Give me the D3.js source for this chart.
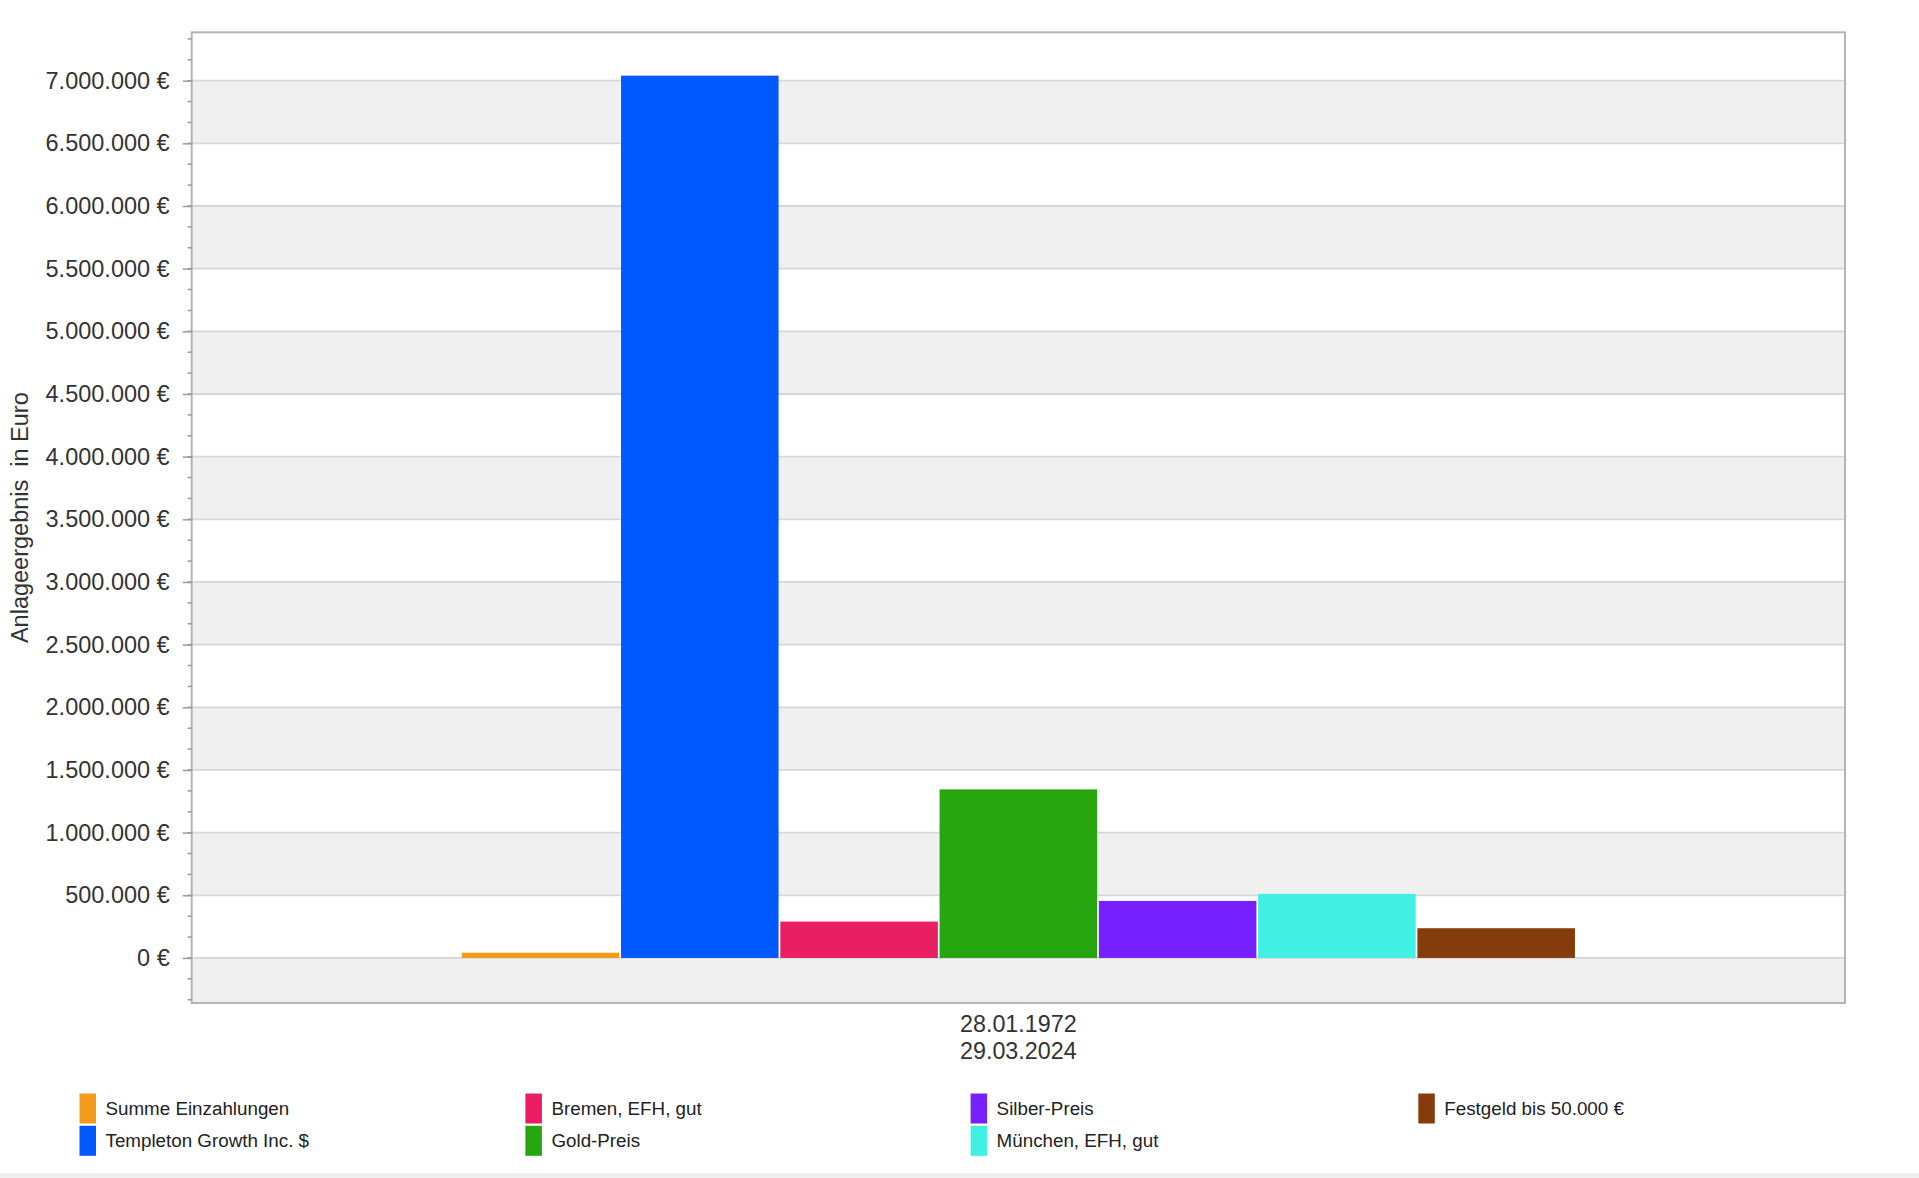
<!DOCTYPE html>
<html lang="de">
<head>
<meta charset="utf-8">
<title>Anlageergebnis in Euro</title>
<script src="https://cdn.jsdelivr.net/npm/d3@7/dist/d3.min.js"></script>
<style>
  html, body { margin: 0; padding: 0; background: #fff; }
  svg { display: block; font-family: "Liberation Sans", Arial, Helvetica, sans-serif; }
</style>
</head>
<body>
<svg id="chart" width="1919" height="1178"></svg>
<script>
// Zeitraum (eine Kategorie, zweizeilig beschriftet)
const periodLines = ["28.01.1972", "29.03.2024"];

// Anlagen und Endwerte in Euro
const seriesNames = [
  "Summe Einzahlungen",
  "Templeton Growth Inc. $",
  "Bremen, EFH, gut",
  "Gold-Preis",
  "Silber-Preis",
  "München, EFH, gut",
  "Festgeld bis 50.000 €"
];
const seriesValues = [42000, 7040000, 290000, 1345000, 455000, 511000, 237000];
const seriesColors = ["#f59b1a", "#0059ff", "#e91e63", "#27a50f", "#7620ff", "#40f0e2", "#843c0a"];

// Achsenbeschriftung
const yTickValues = [0, 500000, 1000000, 1500000, 2000000, 2500000, 3000000, 3500000,
                     4000000, 4500000, 5000000, 5500000, 6000000, 6500000, 7000000];
const yTitle = "Anlageergebnis  in Euro";

const de = d3.formatLocale({ decimal: ",", thousands: ".", grouping: [3], currency: ["", " €"] });
const fmt = v => de.format(",.0f")(v) + " €";

const svg = d3.select("#chart");
const plot = { left: 191.7, right: 1845, top: 32.3, bottom: 1003 };

const y = d3.scaleLinear().domain([-359500, 7386000]).range([plot.bottom, plot.top]);

const x0 = d3.scaleBand()
  .domain([periodLines.join(" ")])
  .range([plot.left, plot.right])
  .paddingInner(0)
  .paddingOuter(0.2426);
const x1 = d3.scaleBand()
  .domain(seriesNames)
  .range([0, x0.bandwidth()])
  .paddingInner(0.011)
  .paddingOuter(0);

// Hintergrundstreifen: grau jeweils zwischen (n·1 Mio − 500.000) und n·1 Mio
const bandsG = svg.append("g");
for (let top = 0; top <= 7000000; top += 1000000) {
  const y1 = Math.min(plot.bottom, y(top - 500000));
  bandsG.append("rect")
    .attr("x", plot.left).attr("width", plot.right - plot.left)
    .attr("y", y(top)).attr("height", y1 - y(top))
    .attr("fill", "#f0f0f0");
}

// Gitterlinien
svg.append("g")
  .selectAll("line").data(yTickValues).join("line")
  .attr("x1", plot.left).attr("x2", plot.right)
  .attr("y1", d => y(d)).attr("y2", d => y(d))
  .attr("stroke", "#d6d6d6").attr("stroke-width", 1.8);

// Balken
const key = x0.domain()[0];
svg.append("g")
  .selectAll("rect").data(seriesNames).join("rect")
  .attr("x", d => x0(key) + x1(d))
  .attr("width", x1.bandwidth())
  .attr("y", (d, i) => y(seriesValues[i]))
  .attr("height", (d, i) => y(0) - y(seriesValues[i]))
  .attr("fill", (d, i) => seriesColors[i]);

// Rahmen
svg.append("rect")
  .attr("x", plot.left).attr("y", plot.top)
  .attr("width", plot.right - plot.left).attr("height", plot.bottom - plot.top)
  .attr("fill", "none").attr("stroke", "#b4b4b4").attr("stroke-width", 2);

// Nebenstriche (Drittel von 500.000)
const minor = d3.range(-2, 45).map(i => i * 500000 / 3)
  .filter(v => y(v) <= plot.bottom && y(v) >= plot.top);
svg.append("g")
  .selectAll("line").data(minor).join("line")
  .attr("x1", plot.left - 4).attr("x2", plot.left)
  .attr("y1", d => y(d)).attr("y2", d => y(d))
  .attr("stroke", "#9a9a9a").attr("stroke-width", 1.5);

// y-Achse
const yAxis = d3.axisLeft(y).tickValues(yTickValues).tickFormat(fmt).tickSize(9).tickPadding(13);
const gy = svg.append("g").attr("transform", `translate(${plot.left},0)`).call(yAxis);
gy.select(".domain").remove();
gy.selectAll(".tick line").attr("stroke", "#9a9a9a").attr("stroke-width", 1.5);
gy.selectAll(".tick text")
  .attr("fill", "#333").attr("font-size", 23.5)
  .attr("font-family", "'Liberation Sans', Arial, sans-serif");

// y-Achsentitel
svg.append("text")
  .attr("transform", `translate(19.5,${(plot.top + plot.bottom) / 2}) rotate(-90)`)
  .attr("text-anchor", "middle").attr("dominant-baseline", "central")
  .attr("font-size", 23.5).attr("fill", "#333")
  .style("white-space", "pre")
  .text(yTitle);

// x-Beschriftung (zweizeilig)
const xc = x0(key) + x0.bandwidth() / 2;
svg.append("g").selectAll("text").data(periodLines).join("text")
  .attr("x", xc).attr("y", (d, i) => 1032.3 + i * 26.4)
  .attr("text-anchor", "middle").attr("font-size", 23.3).attr("fill", "#333")
  .text(d => d);

// Legende: Spalten zu je zwei Einträgen
const legendCols = [79.5, 525.4, 970.6, 1418.3];
const legendRows = [1093.5, 1125.8];
const legend = svg.append("g").selectAll("g").data(seriesNames).join("g")
  .attr("transform", (d, i) => `translate(${legendCols[Math.floor(i / 2)]},${legendRows[i % 2]})`);
legend.append("rect")
  .attr("width", 16.5).attr("height", 30)
  .attr("fill", (d, i) => seriesColors[i]);
legend.append("text")
  .attr("x", 26).attr("y", 15)
  .attr("dominant-baseline", "central")
  .attr("font-size", 18.8).attr("fill", "#222")
  .text(d => d);

// Fußleiste
svg.append("rect").attr("x", 0).attr("y", 1173).attr("width", 1919).attr("height", 5).attr("fill", "#efefef");
</script>
</body>
</html>
